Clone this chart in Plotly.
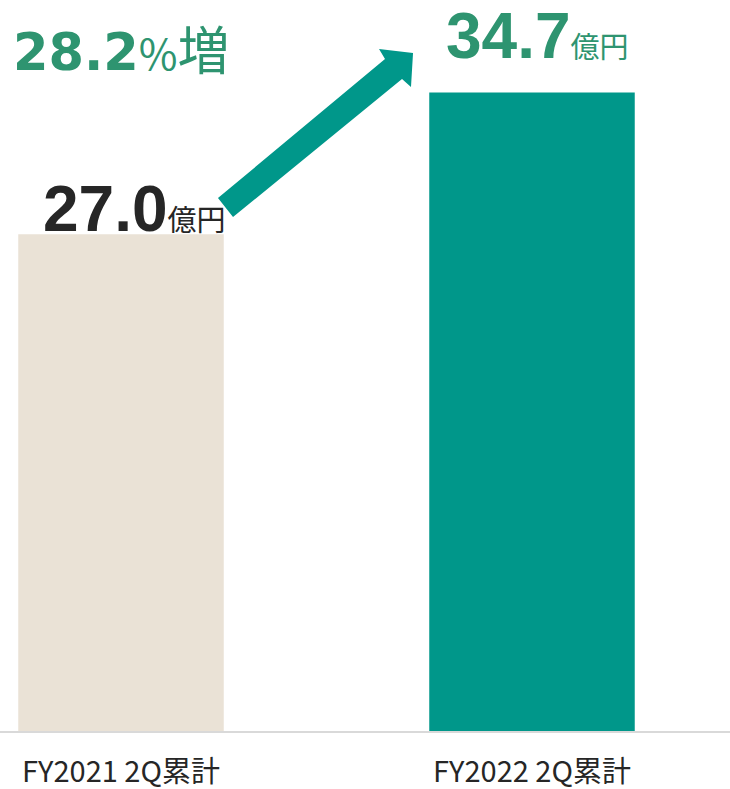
import plotly.graph_objects as go

categories = ["FY2021 2Q累計", "FY2022 2Q累計"]
values = [27.0, 34.7]
growth_pct = 28.2
unit = "億円"

COLOURS = {
    "prev": "#EAE2D6",
    "curr": "#00978A",
    "green_text": "#2E9470",
    "dark_text": "#262626",
    "axis": "#D9D9D9",
}

W, H = 730, 789
PLOT_H = 731  # pixel row of the baseline


def px_to_paper(x, y):
    return x / W, (PLOT_H - y) / PLOT_H


fig = go.Figure(go.Bar(
    x=[0, 1], y=values,
    marker_color=[COLOURS["prev"], COLOURS["curr"]],
    marker_line_width=0,
    width=0.5,
    hoverinfo="skip",
))

num_font = "Liberation Sans, Arial, sans-serif"
wide_font = "DejaVu Sans, Verdana, sans-serif"
jp_font = "Noto Sans CJK JP, sans-serif"


def value_label(v, size, unit_size):
    return (f"<span style='font-family:{num_font};font-size:{size}px'><b>{v:.1f}</b></span>"
            f"<span style='font-family:{jp_font};font-size:{unit_size}px'>{unit}</span>")


# value labels above the bars
fig.add_annotation(x=0, y=values[0], xref="x", yref="y",
                   text=value_label(values[0], 64, 29),
                   showarrow=False, xanchor="center", yanchor="bottom",
                   xshift=13, yshift=-13,
                   font=dict(color=COLOURS["dark_text"], family=jp_font))
fig.add_annotation(x=1, y=values[1], xref="x", yref="y",
                   text=value_label(values[1], 64, 29),
                   showarrow=False, xanchor="center", yanchor="bottom",
                   xshift=5, yshift=19,
                   font=dict(color=COLOURS["green_text"], family=jp_font))

# growth label
gx, gy = px_to_paper(11, 87)
fig.add_annotation(x=gx, y=gy, xref="paper", yref="paper",
                   text=(f"<span style='font-family:{wide_font};font-size:51px'><b>{growth_pct:.1f}</b></span>"
                         f"<span style='font-family:{jp_font};font-size:42px'>%</span>"
                         f"<span style='font-family:{jp_font};font-size:52px'>増</span>"),
                   showarrow=False, xanchor="left", yanchor="bottom",
                   font=dict(color=COLOURS["green_text"], family=jp_font))

# growth arrow
arrow_px = [(218, 198), (385, 59), (379, 49), (413, 53), (411, 87), (402, 79), (233, 217)]
pts = [px_to_paper(x, y) for x, y in arrow_px]
path = "M " + " L ".join(f"{x:.4f},{y:.4f}" for x, y in pts) + " Z"
fig.add_shape(type="path", path=path, xref="paper", yref="paper",
              fillcolor=COLOURS["curr"], line_width=0, layer="above")

fig.update_layout(
    width=W, height=H,
    margin=dict(l=0, r=0, t=0, b=H - PLOT_H),
    plot_bgcolor="white", paper_bgcolor="white",
    showlegend=False,
    xaxis=dict(
        range=[-121 / 411, 1 + (730 - 532) / 411],
        tickvals=[0, 1], ticktext=categories,
        showgrid=False, zeroline=False,
        showline=True, linecolor=COLOURS["axis"], linewidth=2,
        ticks="", ticklabelstandoff=14, automargin=False,
        tickfont=dict(family=jp_font, size=29, color="#262626"),
        fixedrange=True,
    ),
    yaxis=dict(
        range=[0, PLOT_H / 18.4],
        visible=False, showgrid=False, zeroline=False,
        fixedrange=True,
    ),
)

fig.write_html("out.html", config={"displayModeBar": False},
               post_script="document.body.style.margin='0';document.body.style.overflow='hidden';")
